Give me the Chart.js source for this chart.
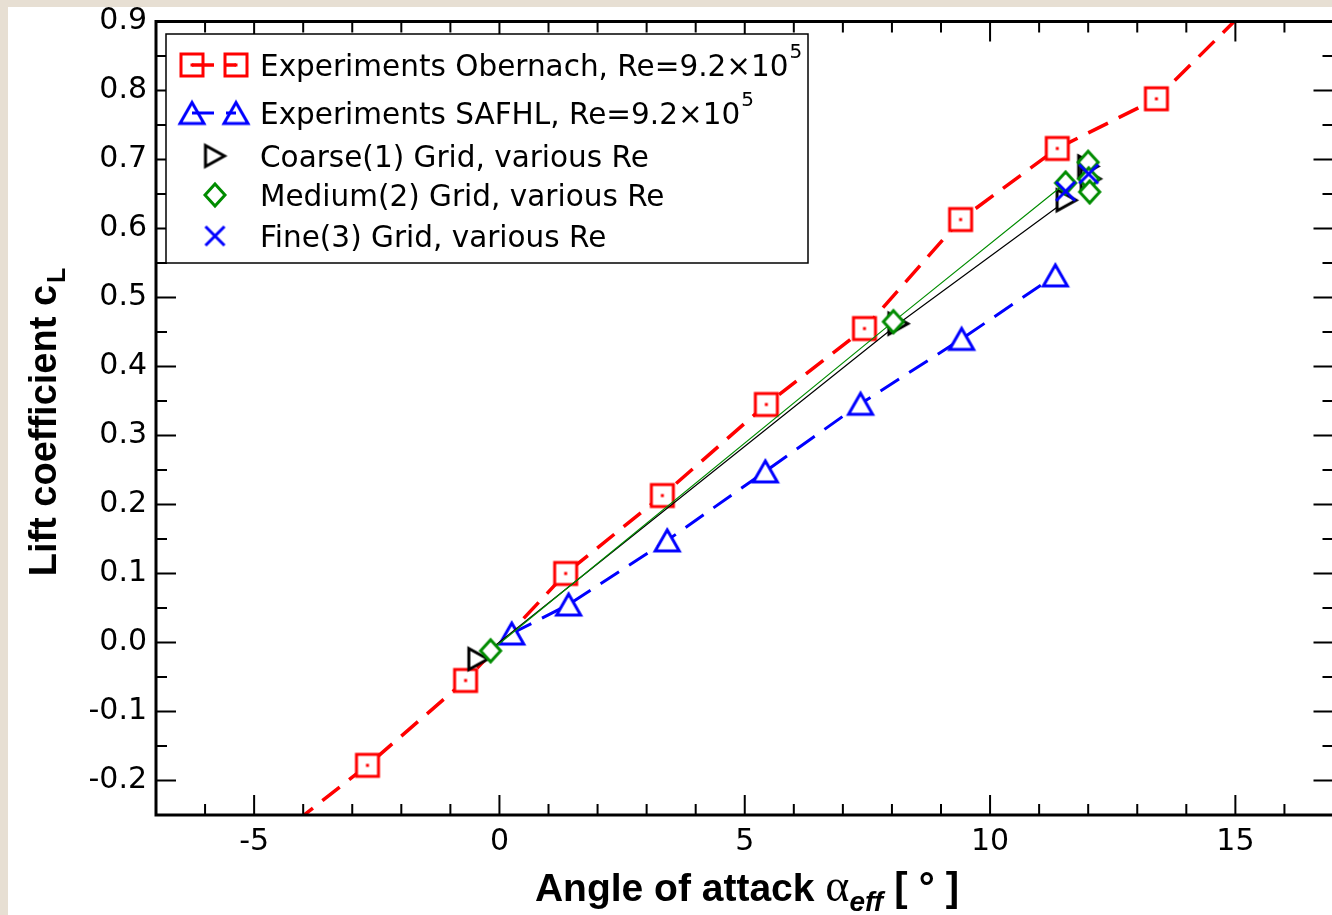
<!DOCTYPE html>
<html lang="en">
<head>
    <meta charset="UTF-8">
    <title>Lift coefficient vs angle of attack</title>
    <style>
        html, body { margin: 0; padding: 0; overflow: hidden; background: #e7dfd3; }
        #wrap { position: absolute; left: 8px; top: 7px; width: 1340px; height: 908px; background: #fff; }
    </style>
</head>
<body>
<div id="wrap">
    <!-- Canvas for the lift curve -->
    <canvas id="liftChart" width="1340" height="908"></canvas>
</div>

<script src="https://cdn.jsdelivr.net/npm/chart.js"></script>

<script>
    const obernachAlpha = [-4.7, -2.69, -0.69, 1.35, 3.32, 5.44, 7.44, 9.40, 11.37, 13.39, 15.4];
    const obernachCL    = [-0.29, -0.178, -0.055, 0.100, 0.213, 0.345, 0.455, 0.613, 0.716, 0.788, 0.93];

    const safhlAlpha = [0.25, 1.41, 3.42, 5.42, 7.36, 9.42, 11.33];
    const safhlCL    = [0.013, 0.055, 0.148, 0.248, 0.346, 0.440, 0.532];

    const coarseAlpha = [-0.43, 8.13, 11.56, 12.00, 12.05];
    const coarseCL    = [-0.024, 0.462, 0.641, 0.690, 0.672];

    const mediumAlpha = [-0.18, 8.03, 11.54, 12.00, 12.01, 12.03];
    const mediumCL    = [-0.012, 0.465, 0.666, 0.696, 0.672, 0.653];

    const fineAlpha = [11.54, 12.01];
    const fineCL    = [0.654, 0.679];

    const xTicks = [-5, 0, 5, 10, 15];
    const yTicks = [-0.2, -0.1, 0.0, 0.1, 0.2, 0.3, 0.4, 0.5, 0.6, 0.7, 0.8, 0.9];

    const legendLabels = [
        ["Experiments Obernach, Re=9.2\u00d710", "5"],
        ["Experiments SAFHL, Re=9.2\u00d710", "5"],
        ["Coarse(1) Grid, various Re", ""],
        ["Medium(2) Grid, various Re", ""],
        ["Fine(3) Grid, various Re", ""]
    ];

    const RED = '#ff0000', BLUE = '#0000ff', GREEN = '#008c00', BLACK = '#000000';

    // Build a small canvas to use as a point style
    function makeMarker(kind, color, w, h, lw) {
        const pad = Math.ceil(lw) + 1;
        const c = document.createElement('canvas');
        c.width = Math.ceil(w + 2 * pad);
        c.height = Math.ceil(h + 2 * pad);
        const g = c.getContext('2d');
        const cx = c.width / 2, cy = c.height / 2;
        g.lineWidth = lw;
        g.strokeStyle = color;
        g.fillStyle = '#fff';
        g.beginPath();
        if (kind === 'square') {
            g.rect(cx - w / 2, cy - h / 2, w, h);
        } else if (kind === 'triUp') {
            g.moveTo(cx, cy - h / 2);
            g.lineTo(cx + w / 2, cy + h / 2);
            g.lineTo(cx - w / 2, cy + h / 2);
            g.closePath();
        } else if (kind === 'triRight') {
            g.moveTo(cx + w / 2, cy);
            g.lineTo(cx - w / 2, cy + h / 2);
            g.lineTo(cx - w / 2, cy - h / 2);
            g.closePath();
        } else if (kind === 'diamond') {
            g.moveTo(cx, cy - h / 2);
            g.lineTo(cx + w / 2, cy);
            g.lineTo(cx, cy + h / 2);
            g.lineTo(cx - w / 2, cy);
            g.closePath();
        }
        if (kind === 'cross') {
            g.moveTo(cx - w / 2, cy - h / 2);
            g.lineTo(cx + w / 2, cy + h / 2);
            g.moveTo(cx + w / 2, cy - h / 2);
            g.lineTo(cx - w / 2, cy + h / 2);
            g.stroke();
        } else {
            g.fill();
            g.stroke();
        }
        if (kind === 'square') {
            g.fillStyle = color;
            g.fillRect(cx - 1.5, cy - 1.5, 3, 3);
        }
        return c;
    }

    const mkSquare = makeMarker('square', RED, 22, 22, 3);
    const mkTriUp = makeMarker('triUp', BLUE, 24, 21, 3);
    const mkTriRight = makeMarker('triRight', BLACK, 19, 21, 3);
    const mkDiamond = makeMarker('diamond', GREEN, 20, 22, 3);
    const mkCross = makeMarker('cross', BLUE, 19, 19, 3);

    function toPoints(xs, ys) {
        return xs.map((x, i) => ({ x: x, y: ys[i] }));
    }

    // only the first three grid points (one Re) are joined by a line
    function firstRunOnly(color) {
        return ctx => ctx.p0DataIndex >= 2 ? 'rgba(0,0,0,0)' : color;
    }

    // Frame with inward ticks on all four sides
    const framePlugin = {
        id: 'frame',
        afterDatasetsDraw(chart) {
            const ctx = chart.ctx;
            const a = chart.chartArea;
            const xs = chart.scales.x, ys = chart.scales.y;
            ctx.save();
            ctx.strokeStyle = '#000';
            ctx.lineWidth = 2;
            ctx.beginPath();
            for (let k = -7; k <= 17; k++) {
                const px = xs.getPixelForValue(k);
                const len = k % 5 === 0 ? 20 : 11;
                ctx.moveTo(px, a.bottom); ctx.lineTo(px, a.bottom - len);
                ctx.moveTo(px, a.top); ctx.lineTo(px, a.top + len);
            }
            for (let k = -5; k <= 18; k++) {
                const py = ys.getPixelForValue(k * 0.05);
                const len = k % 2 === 0 ? 20 : 11;
                ctx.moveTo(a.left, py); ctx.lineTo(a.left + len, py);
                ctx.moveTo(a.right, py); ctx.lineTo(a.right - len, py);
            }
            ctx.stroke();
            ctx.lineWidth = 3;
            ctx.strokeRect(a.left, a.top, a.right - a.left, a.bottom - a.top);
            ctx.restore();
        }
    };

    // Legend box drawn inside the plot
    const legendPlugin = {
        id: 'boxLegend',
        afterDatasetsDraw(chart) {
            const ctx = chart.ctx;
            ctx.save();
            ctx.fillStyle = '#fff';
            ctx.fillRect(158, 27, 642, 229);
            ctx.strokeStyle = '#000';
            ctx.lineWidth = 1.5;
            ctx.strokeRect(158, 27, 642, 229);

            const rows = [58, 106, 149, 188, 229];
            // rows with a dashed line between two symbols
            const paired = [[mkSquare, RED, 3.5], [mkTriUp, BLUE, 3]];
            paired.forEach((p, i) => {
                const y = rows[i];
                ctx.drawImage(p[0], 184 - p[0].width / 2, y - p[0].height / 2);
                ctx.drawImage(p[0], 228 - p[0].width / 2, y - p[0].height / 2);
                ctx.strokeStyle = p[1];
                ctx.lineWidth = p[2];
                ctx.setLineDash([22, 12]);
                ctx.beginPath();
                ctx.moveTo(184, y);
                ctx.lineTo(228, y);
                ctx.stroke();
                ctx.setLineDash([]);
            });
            [mkTriRight, mkDiamond, mkCross].forEach((m, i) => {
                const y = rows[i + 2];
                ctx.drawImage(m, 207 - m.width / 2, y - m.height / 2);
            });

            ctx.fillStyle = '#000';
            ctx.textBaseline = 'alphabetic';
            legendLabels.forEach((lab, i) => {
                const y = rows[i] + 11;
                ctx.font = '29.5px "DejaVu Sans"';
                ctx.fillText(lab[0], 252, y);
                if (lab[1]) {
                    const w = ctx.measureText(lab[0]).width;
                    ctx.font = '20px "DejaVu Sans"';
                    ctx.fillText(lab[1], 252 + w + 1, y - 18);
                }
            });
            ctx.restore();
        }
    };

    // Axis titles with sub/superscripts
    const titlePlugin = {
        id: 'axisTitles',
        afterDraw(chart) {
            const ctx = chart.ctx;
            ctx.save();
            ctx.fillStyle = '#000';
            ctx.textBaseline = 'alphabetic';

            // x title
            const parts = [
                ['Angle of attack ', 'bold 39px "Liberation Sans"', 0],
                ['\u03b1', '46px "Liberation Serif"', 0],
                ['eff', 'italic bold 28px "Liberation Sans"', 10],
                [' [ \u00b0 ]', 'bold 40px "Liberation Sans"', 0]
            ];
            let total = 0;
            parts.forEach(p => { ctx.font = p[1]; total += ctx.measureText(p[0]).width; });
            let x = 739 - total / 2;
            parts.forEach(p => {
                ctx.font = p[1];
                ctx.fillText(p[0], x, 894 + p[2]);
                x += ctx.measureText(p[0]).width;
            });

            // y title, rotated
            ctx.translate(48, 415);
            ctx.rotate(-Math.PI / 2);
            ctx.font = 'bold 38px "Liberation Sans"';
            const main = 'Lift coefficient c';
            const wMain = ctx.measureText(main).width;
            ctx.font = 'bold 25px "Liberation Sans"';
            const wSub = ctx.measureText('L').width;
            const start = -(wMain + wSub + 2) / 2;
            ctx.font = 'bold 38px "Liberation Sans"';
            ctx.fillText(main, start, 0);
            ctx.font = 'bold 25px "Liberation Sans"';
            ctx.fillText('L', start + wMain + 2, 9);
            ctx.restore();
        }
    };

    const tickFont = { family: 'DejaVu Sans', size: 30 };

    const liftChart = new Chart(document.getElementById('liftChart'), {
        type: 'scatter',
        data: {
            datasets: [
                {
                    label: legendLabels[0][0],
                    data: toPoints(obernachAlpha, obernachCL),
                    showLine: true,
                    borderColor: RED,
                    borderWidth: 3.5,
                    borderDash: [22, 12],
                    pointStyle: mkSquare,
                    pointRadius: 11,
                    order: 5
                },
                {
                    label: legendLabels[1][0],
                    data: toPoints(safhlAlpha, safhlCL),
                    showLine: true,
                    borderColor: BLUE,
                    borderWidth: 3,
                    borderDash: [22, 12],
                    pointStyle: mkTriUp,
                    pointRadius: 11,
                    order: 4
                },
                {
                    label: legendLabels[2][0],
                    data: toPoints(coarseAlpha, coarseCL),
                    showLine: true,
                    borderColor: BLACK,
                    borderWidth: 1.2,
                    segment: { borderColor: firstRunOnly(BLACK) },
                    pointStyle: mkTriRight,
                    pointRadius: 10,
                    order: 3
                },
                {
                    label: legendLabels[3][0],
                    data: toPoints(mediumAlpha, mediumCL),
                    showLine: true,
                    borderColor: GREEN,
                    borderWidth: 1.2,
                    segment: { borderColor: firstRunOnly(GREEN) },
                    pointStyle: mkDiamond,
                    pointRadius: 10,
                    order: 2
                },
                {
                    label: legendLabels[4][0],
                    data: toPoints(fineAlpha, fineCL),
                    showLine: false,
                    pointStyle: mkCross,
                    pointRadius: 10,
                    order: 1
                }
            ]
        },
        options: {
            responsive: false,
            animation: false,
            devicePixelRatio: 1,
            layout: { padding: { left: 0, top: 14, right: 14, bottom: 0 } },
            plugins: {
                legend: { display: false },
                tooltip: { enabled: false }
            },
            scales: {
                x: {
                    type: 'linear',
                    min: -7,
                    max: 17,
                    afterBuildTicks: s => { s.ticks = xTicks.map(v => ({ value: v })); },
                    afterFit: s => { s.height = 100; s.paddingLeft = 0; s.paddingRight = 0; },
                    grid: { display: false, drawTicks: false },
                    border: { display: false },
                    ticks: { font: tickFont, color: '#000', padding: 9, maxRotation: 0, autoSkip: false }
                },
                y: {
                    type: 'linear',
                    min: -0.25,
                    max: 0.9,
                    afterBuildTicks: s => { s.ticks = yTicks.map(v => ({ value: v })); },
                    afterFit: s => { s.width = 148; s.paddingTop = 0; s.paddingBottom = 0; },
                    grid: { display: false, drawTicks: false },
                    border: { display: false },
                    ticks: {
                        font: tickFont,
                        color: '#000',
                        padding: 9,
                        autoSkip: false,
                        callback: v => v.toFixed(1)
                    }
                }
            }
        },
        plugins: [framePlugin, legendPlugin, titlePlugin]
    });
</script>

</body>
</html>
